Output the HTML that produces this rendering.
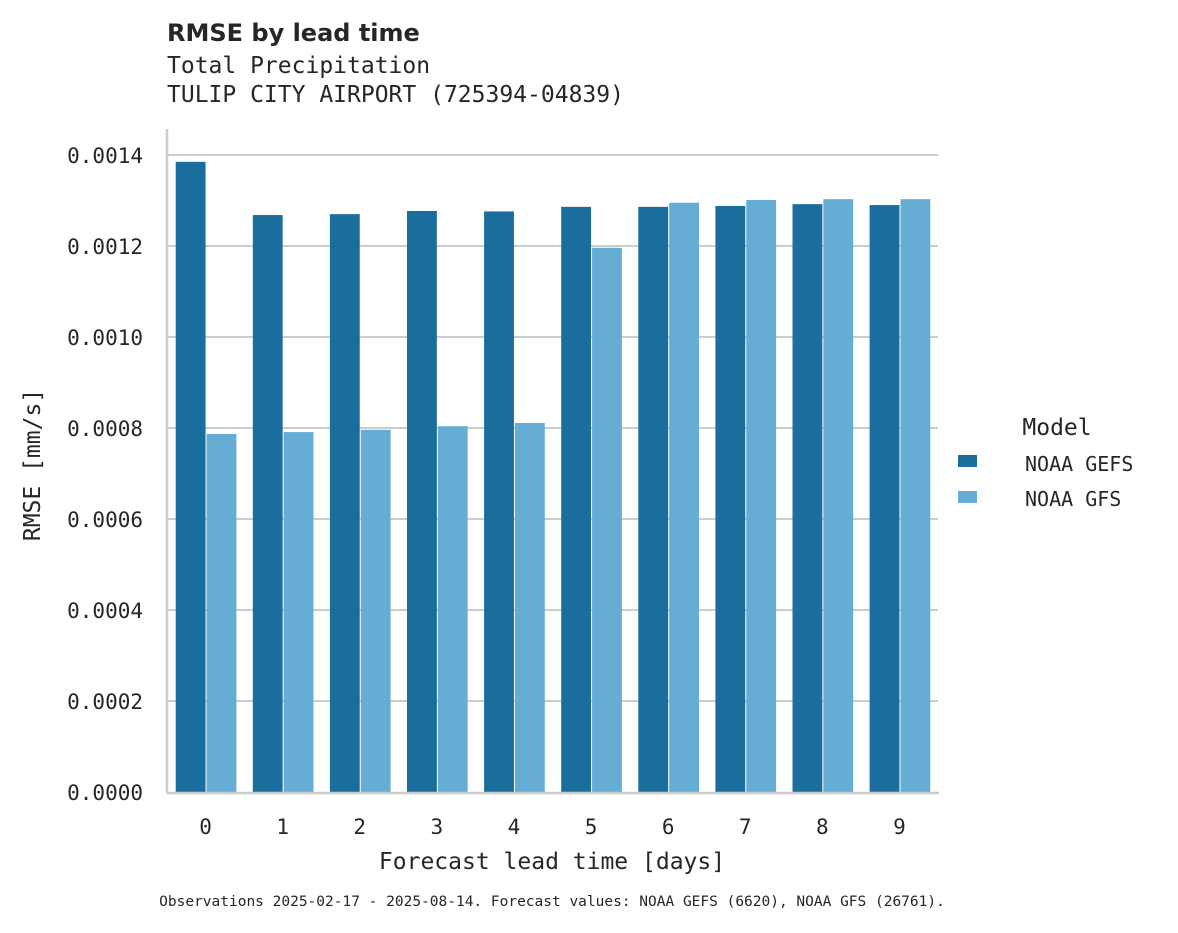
<!DOCTYPE html>
<html><head><meta charset="utf-8"><style>
body{margin:0;background:#fff;}
svg text{font-family:"DejaVu Sans Mono","Liberation Mono",monospace;fill:#262626;}
</style></head><body>
<svg id="chart" width="1178" height="928" xmlns="http://www.w3.org/2000/svg">
<text x="167" y="41" font-size="24" font-weight="bold" style="font-family:'DejaVu Sans','Liberation Sans',sans-serif">RMSE by lead time</text>
<text x="167" y="73" font-size="23">Total Precipitation</text>
<text x="167" y="102" font-size="23">TULIP CITY AIRPORT (725394-04839)</text>
<g id="grid"></g>
<g id="bars"></g>
<g id="axes"></g>
<text transform="translate(40,465) rotate(-90)" text-anchor="middle" font-size="23">RMSE [mm/s]</text>
<text x="552" y="869" text-anchor="middle" font-size="23">Forecast lead time [days]</text>
<g>
<text x="1057" y="435" text-anchor="middle" font-size="23">Model</text>
<rect x="958" y="455" width="19" height="12" fill="#1a6e9e"/>
<text x="1025" y="471" font-size="20">NOAA GEFS</text>
<rect x="958" y="491" width="19" height="12" fill="#66add6"/>
<text x="1025" y="506" font-size="20">NOAA GFS</text>
</g>
<text x="552" y="906" text-anchor="middle" font-size="14.5">Observations 2025-02-17 - 2025-08-14. Forecast values: NOAA GEFS (6620), NOAA GFS (26761).</text>
</svg>
<script>
const categories=["0","1","2","3","4","5","6","7","8","9"];
const gefsValues=[0.001385,0.001268,0.00127,0.001277,0.001276,0.001286,0.001286,0.001288,0.001292,0.00129];
const gfsValues=[0.000787,0.000791,0.000796,0.000804,0.000811,0.001196,0.001295,0.001301,0.001303,0.001303];
const yTicks=[0,0.0002,0.0004,0.0006,0.0008,0.001,0.0012,0.0014];
const yTickLabels=["0.0000","0.0002","0.0004","0.0006","0.0008","0.0010","0.0012","0.0014"];
const NS="http://www.w3.org/2000/svg";
const x0=167,x1=938,yBase=792,yTop=155;
const y=v=>yBase-(v/0.0014)*(yBase-yTop);
const gw=(x1-x0)/categories.length;
const xc=i=>x0+gw*(i+0.5);
function mk(t,a,p){const e=document.createElementNS(NS,t);for(const k in a)e.setAttribute(k,a[k]);p.appendChild(e);return e;}
const grid=document.getElementById('grid'),bars=document.getElementById('bars'),axes=document.getElementById('axes');
yTicks.forEach((v,i)=>{
 if(v>0){const l=mk('line',{x1:x0,x2:x1,y1:y(v),y2:y(v),stroke:'#cccccc','stroke-width':2},grid);
 
 }
 const t=mk('text',{x:143,y:y(v)+8,'text-anchor':'end','font-size':21},axes);
 t.textContent=yTickLabels[i];
 
 
});
const bw=gw*0.4-1;
categories.forEach((c,i)=>{
 const r1=mk('rect',{x:xc(i)-gw*0.4+1,y:y(gefsValues[i]),width:bw,height:yBase-y(gefsValues[i]),fill:'#1a6e9e'},bars);
 
 
 const r2=mk('rect',{x:xc(i)+1,y:y(gfsValues[i]),width:bw,height:yBase-y(gfsValues[i]),fill:'#66add6'},bars);
 
 
 const t=mk('text',{x:xc(i),y:834,'text-anchor':'middle','font-size':21},axes);
 t.textContent=c;
 
 
});
const ya=mk('line',{x1:x0,x2:x0,y1:129,y2:yBase+1,stroke:'#cccccc','stroke-width':2.5},axes);


const xa=mk('line',{x1:x0,x2:x1+1,y1:yBase+1,y2:yBase+1,stroke:'#cccccc','stroke-width':2.5},axes);


</script>
</body></html>
